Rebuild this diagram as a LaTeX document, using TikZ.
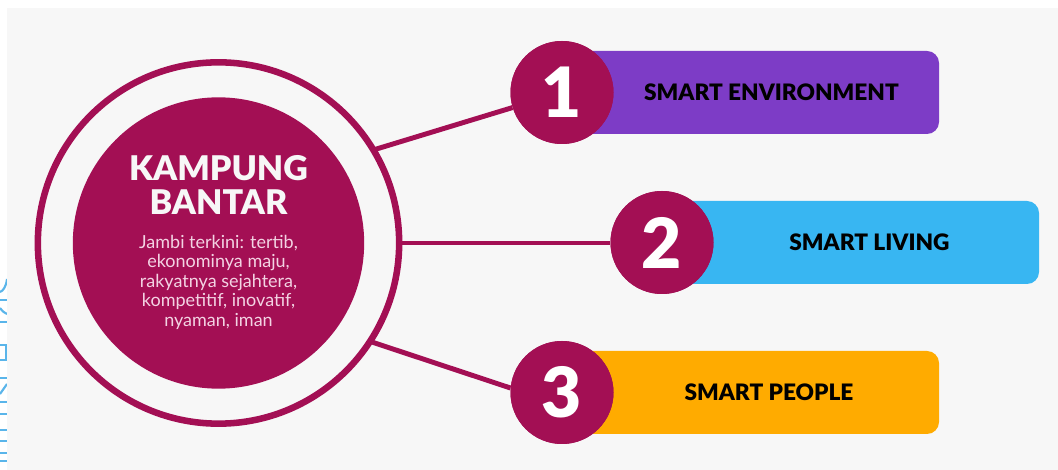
\documentclass[tikz,border=0pt]{standalone}
\usepackage{fontspec}
\setmainfont{Lato}
\newfontfamily\heavy{Lato Black}
\definecolor{panel}{HTML}{F7F7F7}
\definecolor{berry}{HTML}{A30F54}
\definecolor{vio}{HTML}{7D3CC6}
\definecolor{sky}{HTML}{38B6F2}
\definecolor{amber}{HTML}{FFAB00}
\definecolor{pinktext}{HTML}{F3D3E3}
\definecolor{edge}{HTML}{5AB5EA}
\tikzset{x=0.75pt,y=-0.75pt,
  numdisc/.style={circle,fill=berry,minimum size=77.25pt,inner sep=0pt,text=white,font=\fontsize{52}{52}\selectfont\heavy},
  barlabel/.style={text=black,font=\fontsize{17}{18}\selectfont\heavy,inner sep=0pt},
  link/.style={draw=berry,line width=3.7pt},
  ring/.style={circle,draw=berry,line width=4.9pt,minimum size=271pt,inner sep=0pt,outer sep=0pt},
  hub/.style={circle,fill=berry,minimum size=218.5pt,inner sep=0pt},
  remnant/.style={draw=edge,line width=1.6pt}
}
\begin{document}
\begin{tikzpicture}
\useasboundingbox (0,0) rectangle (1058,470);
\fill[white] (0,0) rectangle (1058,470);
% clipped remnants of a rotated caption beside the panel
\begin{scope}
\clip (0,270) rectangle (7,470);
\draw[remnant] (7,279) .. controls (6,287) and (3,291) .. (0,292);
\draw[remnant] (0,300) -- (7,300);
\draw[remnant] (0,308) .. controls (3,312) and (5,313) .. (7,314);
\draw[remnant] (0,322) -- (7,322);
\draw[remnant] (0,345) -- (6,345) -- (6,360) -- (0,360);
\draw[remnant] (0,378) -- (7,378);
\draw[remnant] (0,394) -- (7,384);
\draw[remnant] (0,402) -- (7,402);
\draw[remnant] (0,414) -- (7,414);
\draw[remnant] (0,430) -- (7,430);
\draw[remnant] (0,441) -- (7,441);
\draw[remnant] (0,453) -- (7,453);
\draw[remnant] (0,461) -- (7,461);
\end{scope}
\fill[panel] (7,8) rectangle (1058,470);
\fill[vio,rounded corners=9pt] (562,51) rectangle (939,134);
\fill[sky,rounded corners=9pt] (662,201) rectangle (1039,284);
\fill[amber,rounded corners=9pt] (562,351) rectangle (939,434);
\node[numdisc] (n1) at (562,92.5) {};
\node[numdisc] (n2) at (662,242.5) {};
\node[numdisc] (n3) at (562,392.5) {};
\node[ring] (ring) at (218.5,243) {};
\node[hub] (hub) at (218.5,243) {};
\draw[link] (ring.31) -- (n1);
\draw[link] (ring.east) -- (ring.east -| n2.west);
\draw[link] (ring.-33) -- (n3.175);
\node[numdisc] at (n1) {1};
\node[numdisc] at (n2) {2};
\node[numdisc] at (n3) {3};
\node[barlabel] (l1) at (771.5,92) {SMART ENVIRONMENT};
\node[barlabel] (l2) at (869.5,242) {SMART LIVING};
\node[barlabel] (l3) at (769,392) {SMART PEOPLE};
\node[text=panel,font=\fontsize{25.5}{25}\selectfont\heavy,align=center,inner sep=0pt] (title) at (218.5,185) {KAMPUNG\\BANTAR};
\node[text=pinktext,font=\fontsize{13.5}{14.65}\selectfont,align=center,inner sep=0pt] (body) at (218.5,282) {Jambi terkini: tertib,\\ekonominya maju,\\rakyatnya sejahtera,\\kompetitif, inovatif,\\nyaman, iman};
\end{tikzpicture}
\end{document}
